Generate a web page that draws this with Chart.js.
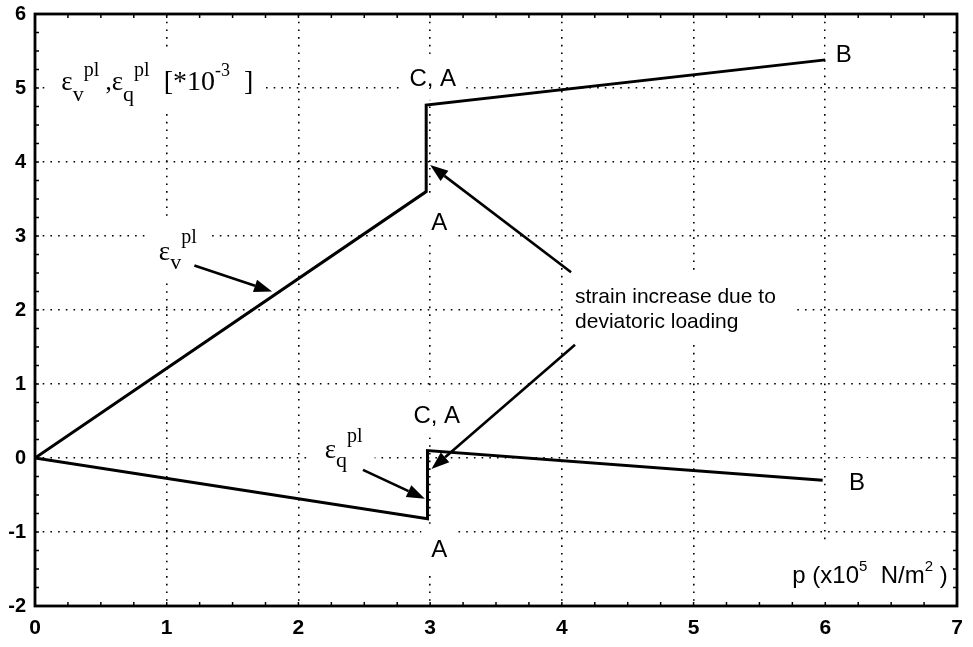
<!DOCTYPE html>
<html>
<head>
<meta charset="utf-8">
<script src="https://cdn.jsdelivr.net/npm/chart.js@4.4.1/dist/chart.umd.min.js"></script>
<style>
  html, body { margin: 0; padding: 0; background: #fff; }
  #wrap { width: 973px; height: 647px; }
</style>
</head>
<body>
<div id="wrap"><canvas id="myChart" width="973" height="647"></canvas></div>
<script>
// plastic strain paths, p in 1e5 N/m2, strain in 1e-3
const pVol = [0, 2.97, 2.97, 6.0];
const epsVol = [0, 3.6, 4.77, 5.38];
const pDev = [0, 2.98, 2.98, 5.98];
const epsDev = [0, -0.82, 0.1, -0.3];
const xTicks = [0, 1, 2, 3, 4, 5, 6, 7];
const yTicks = [-2, -1, 0, 1, 2, 3, 4, 5, 6];

// annotations, in data units
const pointLabels = [
  { text: 'C, A', x: 3.02, y: 5.15 },
  { text: 'A', x: 3.07, y: 3.2 },
  { text: 'B', x: 6.14, y: 5.47 },
  { text: 'C, A', x: 3.05, y: 0.59 },
  { text: 'A', x: 3.07, y: -1.22 },
  { text: 'B', x: 6.24, y: -0.31 }
];
const arrows = [
  { from: [4.07, 2.51], to: [3.0, 3.96] },
  { from: [4.1, 1.53], to: [3.01, -0.15] },
  { from: [1.21, 2.6], to: [1.8, 2.25] },
  { from: [2.49, -0.16], to: [2.96, -0.55] }
];
const noteLines = ['strain increase due to', 'deviatoric loading'];

const SERIF = '"Liberation Serif", "DejaVu Serif", serif';
const SANS = '"Liberation Sans", Arial, sans-serif';

const eps = (sub, subDy, supDy) => [
  { t: 'ε', size: 27, fam: SERIF },
  { t: sub, size: 22, fam: SERIF, dy: subDy },
  { t: 'pl', size: 20, fam: SERIF, dy: supDy }
];
const richLabels = [
  { x: 0.2, y: 4.97, runs: [...eps('v', 11, -14), { t: ' ,', size: 25, fam: SERIF }, ...eps('q', 11, -14),
      { t: '  [*10', size: 28, fam: SERIF }, { t: '-3', size: 18, fam: SERIF, dy: -14 },
      { t: '  ]', size: 28, fam: SERIF }] },
  { x: 0.94, y: 2.68, runs: eps('v', 9, -17) },
  { x: 2.2, y: 0.0, runs: eps('q', 9, -16) },
  { x: 5.75, y: -1.69, runs: [{ t: 'p (x10', size: 24, fam: SANS }, { t: '5', size: 15, fam: SANS, dy: -12 },
      { t: '  N/m', size: 24, fam: SANS }, { t: '2', size: 15, fam: SANS, dy: -12 }, { t: ' )', size: 24, fam: SANS }] }
];

function runsWidth(ctx, runs) {
  let w = 0;
  runs.forEach(r => { ctx.font = r.size + 'px ' + r.fam; w += ctx.measureText(r.t).width; });
  return w;
}

function drawRuns(ctx, runs, x, y) {
  let cx = x;
  runs.forEach(r => {
    ctx.font = r.size + 'px ' + r.fam;
    ctx.fillText(r.t, cx, y + (r.dy || 0));
    cx += ctx.measureText(r.t).width;
  });
}

function drawArrow(ctx, x1, y1, x2, y2) {
  const a = Math.atan2(y2 - y1, x2 - x1);
  const len = 18, half = 6.5;
  const bx = x2 - len * Math.cos(a), by = y2 - len * Math.sin(a);
  ctx.beginPath();
  ctx.moveTo(x1, y1);
  ctx.lineTo(bx, by);
  ctx.stroke();
  ctx.beginPath();
  ctx.moveTo(x2, y2);
  ctx.lineTo(bx + half * Math.sin(a), by - half * Math.cos(a));
  ctx.lineTo(bx - half * Math.sin(a), by + half * Math.cos(a));
  ctx.closePath();
  ctx.fill();
}

const annotate = {
  id: 'annotate',
  beforeDatasetsDraw(chart) {
    const { ctx, scales: { x, y } } = chart;
    ctx.save();
    ctx.textBaseline = 'alphabetic';

    // simple labels, white box behind them hides the grid
    pointLabels.forEach(l => {
      ctx.font = '24px ' + SANS;
      const w = ctx.measureText(l.text).width;
      const cx = x.getPixelForValue(l.x), cy = y.getPixelForValue(l.y);
      ctx.fillStyle = '#fff';
      ctx.fillRect(cx - w / 2 - 10, cy - 23, w + 20, 46);
      ctx.fillStyle = '#000';
      ctx.textAlign = 'center';
      ctx.fillText(l.text, cx, cy + 9);
    });

    ctx.textAlign = 'left';
    richLabels.forEach(l => {
      const w = runsWidth(ctx, l.runs);
      const px = x.getPixelForValue(l.x), py = y.getPixelForValue(l.y);
      ctx.fillStyle = '#fff';
      ctx.fillRect(px - 13, py - 42, w + 25, 62);
      ctx.fillStyle = '#000';
      drawRuns(ctx, l.runs, px, py);
    });

    // note text
    ctx.font = '21px ' + SANS;
    const nx = x.getPixelForValue(4.1);
    const ny = [y.getPixelForValue(2.19), y.getPixelForValue(1.85)];
    const nw = Math.max(...noteLines.map(t => ctx.measureText(t).width));
    ctx.fillStyle = '#fff';
    ctx.fillRect(nx - 12, ny[0] - 24, nw + 30, ny[1] - ny[0] + 42);
    ctx.fillStyle = '#000';
    noteLines.forEach((t, i) => ctx.fillText(t, nx, ny[i] + 7));
    ctx.restore();
  },
  afterDatasetsDraw(chart) {
    const { ctx, chartArea: a, scales: { x, y } } = chart;
    ctx.save();
    ctx.strokeStyle = '#000';
    ctx.fillStyle = '#000';
    ctx.lineWidth = 2.6;
    arrows.forEach(ar => drawArrow(ctx,
      x.getPixelForValue(ar.from[0]), y.getPixelForValue(ar.from[1]),
      x.getPixelForValue(ar.to[0]), y.getPixelForValue(ar.to[1])));

    // small ticks inside the box
    ctx.lineWidth = 1.5;
    ctx.beginPath();
    for (let v = 0; v <= 7; v += 0.25) {
      const px = x.getPixelForValue(v);
      ctx.moveTo(px, a.bottom); ctx.lineTo(px, a.bottom - 4);
      ctx.moveTo(px, a.top); ctx.lineTo(px, a.top + 4);
    }
    for (let v = -2; v <= 6; v += 0.25) {
      const py = y.getPixelForValue(v);
      ctx.moveTo(a.left, py); ctx.lineTo(a.left + 4, py);
      ctx.moveTo(a.right, py); ctx.lineTo(a.right - 4, py);
    }
    ctx.stroke();

    ctx.lineWidth = 2.8;
    ctx.strokeRect(a.left, a.top, a.right - a.left, a.bottom - a.top);
    ctx.restore();
  }
};

const ctx = document.getElementById('myChart').getContext('2d');

new Chart(ctx, {
  type: 'scatter',
  data: {
    datasets: [{
      data: pVol.map((p, i) => ({ x: p, y: epsVol[i] })),
      showLine: true,
      borderColor: '#000',
      borderWidth: 3,
      pointRadius: 0,
      tension: 0
    }, {
      data: pDev.map((p, i) => ({ x: p, y: epsDev[i] })),
      showLine: true,
      borderColor: '#000',
      borderWidth: 3,
      pointRadius: 0,
      tension: 0
    }]
  },
  options: {
    responsive: false,
    animation: false,
    layout: { padding: { top: 14, right: 16, left: 0, bottom: 0 } },
    scales: {
      x: {
        type: 'linear',
        min: xTicks[0],
        max: xTicks[xTicks.length - 1],
        afterBuildTicks: s => { s.ticks = xTicks.map(v => ({ value: v })); },
        afterFit: s => { s.height = 41; s.paddingLeft = 0; s.paddingRight = 0; },
        ticks: { color: '#000', padding: 10, font: { family: SANS, size: 21, weight: 'bold' } },
        grid: { color: '#000', lineWidth: 1.6, drawTicks: false },
        border: { display: false, dash: [1.6, 6.1] }
      },
      y: {
        type: 'linear',
        min: yTicks[0],
        max: yTicks[yTicks.length - 1],
        afterBuildTicks: s => { s.ticks = yTicks.map(v => ({ value: v })); },
        afterFit: s => { s.width = 35; s.paddingTop = 0; s.paddingBottom = 0; },
        ticks: { color: '#000', padding: 9, font: { family: SANS, size: 20, weight: 'bold' } },
        grid: { color: '#000', lineWidth: 1.6, drawTicks: false },
        border: { display: false, dash: [1.6, 6.1] }
      }
    },
    plugins: {
      legend: { display: false },
      tooltip: { enabled: false }
    }
  },
  plugins: [annotate]
});
</script>
</body>
</html>
